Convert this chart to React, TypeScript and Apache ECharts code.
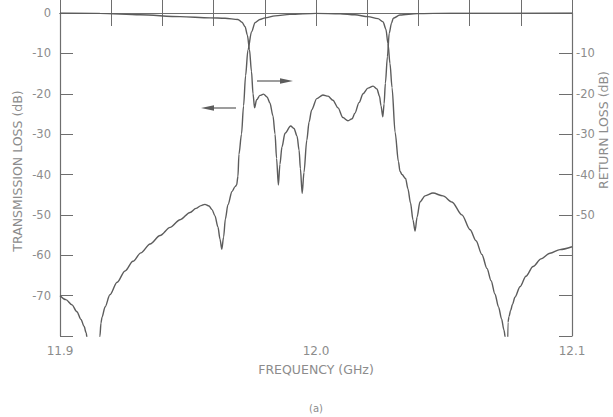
import React, { useEffect, useRef } from "react";
import * as echarts from "echarts";

// Transmission loss (S21) of the filter, frequency in GHz and loss in dB
const txFreq = [
  11.9, 11.9023, 11.9047, 11.9066, 11.9082, 11.9094, 11.9102, 11.9107, 11.9129, 11.9152,
  11.9156, 11.916, 11.9164, 11.9176, 11.9195, 11.9223, 11.9254, 11.9285, 11.9316, 11.9352,
  11.9391, 11.943, 11.9469, 11.9508, 11.9531, 11.9551, 11.9566, 11.9582, 11.9594, 11.9605,
  11.9617, 11.9625, 11.9632, 11.9639, 11.9646, 11.9656, 11.9672, 11.9684, 11.969, 11.9695,
  11.9699, 11.9709, 11.9717, 11.9725, 11.9734, 11.9748, 11.9762, 11.9781, 11.9801, 11.984,
  11.9898, 12.0, 12.0094, 12.0152, 12.0203, 12.0242, 12.0262, 12.0273, 12.0281, 12.0289,
  12.0297, 12.0309, 12.0322, 12.0328, 12.0336, 12.035, 12.0359, 12.0369, 12.0379, 12.0387,
  12.0395, 12.0406, 12.0426, 12.0457, 12.0496, 12.0531, 12.057, 12.0602, 12.0625, 12.0648,
  12.0668, 12.0684, 12.0699, 12.0713, 12.0725, 12.0734, 12.074, 12.0745, 12.075, 12.0754,
  12.076, 12.0768, 12.0777, 12.0797, 12.082, 12.0848, 12.0879, 12.0914, 12.0953, 12.1,
];
const txLoss = [
  -70.0, -71.0, -72.3, -74.0, -75.9, -77.6, -79.2, -81, -100, -82,
  -80.0, -76.8, -75.4, -72.8, -69.8, -66.7, -63.9, -61.5, -59.4, -57.2,
  -55.1, -53.1, -51.2, -49.4, -48.4, -47.7, -47.4, -47.8, -48.7, -50.2,
  -53, -56, -58.5, -55.5, -51, -47.5, -44.2, -43.0, -42.6, -40.5,
  -35, -30, -23, -15.5, -9.2, -4.7, -2.4, -1.6, -1.2, -0.7,
  -0.35, -0.1, -0.2, -0.45, -0.9, -1.4, -2.2, -4.0, -7.5, -12.5,
  -18.5, -29.5, -36.8, -39.2, -40.0, -41.0, -43.5, -47.0, -51.3, -54.0,
  -50.5, -46.8, -45.3, -44.6, -45.3, -46.8, -50.0, -53.7, -56.4, -59.8,
  -63.3, -66.3, -69.6, -72.8, -75.8, -78.5, -80.5, -100, -76.6, -75.2,
  -73.7, -72.1, -70.4, -67.8, -65.2, -62.8, -60.9, -59.5, -58.6, -57.9,
];

// Return loss (S11), same units
const rlFreq = [
  11.9, 11.9156, 11.9313, 11.9469, 11.9586, 11.9645, 11.9695, 11.9711, 11.9723, 11.9732,
  11.974, 11.9748, 11.9754, 11.976, 11.9768, 11.9781, 11.9795, 11.9809, 11.982, 11.9832,
  11.984, 11.9846, 11.9853, 11.9859, 11.9867, 11.9879, 11.9901, 11.9914, 11.9926, 11.9934,
  11.9939, 11.9946, 11.9953, 11.9964, 11.9973, 11.9983, 12.0003, 12.0027, 12.0047, 12.0066,
  12.0086, 12.0105, 12.0125, 12.0141, 12.0152, 12.0168, 12.0184, 12.0203, 12.0223, 12.0238,
  12.0248, 12.0254, 12.0261, 12.0266, 12.0271, 12.0279, 12.0286, 12.0295, 12.0302, 12.0328,
  12.0395, 12.0523, 12.1,
];
const rlLoss = [
  0, -0.1, -0.45, -0.9, -1.2, -1.3, -1.6, -2.3, -3.4, -5.5,
  -9.0, -14.5, -20, -23.5, -21.5, -20.4, -20.1, -20.8, -22.3, -25.5,
  -30, -36, -42.6, -37.5, -33.2, -29.8, -28.0, -28.6, -30.5, -34.0,
  -38.5, -44.7, -39.5, -31.5, -27.0, -24.0, -21.2, -20.3, -20.6, -21.6,
  -23.5, -25.9, -26.7, -26.2, -24.8, -22.2, -20.0, -18.6, -18.1, -18.8,
  -20.6, -23.0, -25.7, -22.5, -17.4, -10.8, -5.0, -2.5, -1.3, -0.5,
  -0.15, -0.05, 0,
];

const freqLabels = ["11.9", "12.0", "12.1"];
const leftLossLabels = [0, -10, -20, -30, -40, -50, -60, -70];
const rightLossLabels = [-10, -20, -30, -40, -50];

const AXIS = "#6e6e6e";
const TEXT = "#8c8c8c";
const CURVE = "#5c5c5c";
const FONT = "DejaVu Sans";

function pairs(xs: number[], ys: number[]) {
  return xs.map((x, i) => [x, ys[i]]);
}

export default function App() {
  const ref = useRef<HTMLDivElement>(null);

  useEffect(() => {
    if (!ref.current) return;
    const chart = echarts.init(ref.current, undefined, { renderer: "svg" });

    const xBase = {
      type: "value" as const,
      min: 11.9,
      max: 12.1,
      interval: 0.02,
      splitLine: { show: false },
      axisLine: { show: true, lineStyle: { color: AXIS, width: 1.2 } },
      axisTick: { show: true, inside: true, length: 13, lineStyle: { color: AXIS, width: 1 } },
    };
    const yBase = {
      type: "value" as const,
      min: -80,
      max: 0,
      interval: 10,
      splitLine: { show: false },
      axisLine: { show: true, lineStyle: { color: AXIS, width: 1.2 } },
      axisTick: { show: true, inside: true, length: 13, lineStyle: { color: AXIS, width: 1 } },
    };

    chart.setOption({
      animation: false,
      backgroundColor: "#ffffff",
      grid: { left: 60, right: 41, top: 13, bottom: 81, containLabel: false, outerBoundsMode: "none" },
      xAxis: [
        {
          ...xBase,
          position: "bottom",
          axisLabel: {
            color: TEXT,
            fontFamily: FONT,
            fontSize: 12,
            margin: 9,
            formatter: (v: number) => {
              const s = v.toFixed(1);
              return Math.abs(v - parseFloat(s)) < 1e-6 && freqLabels.includes(s) ? s : "";
            },
          },
        },
        {
          ...xBase,
          position: "top",
          axisLabel: { show: false },
        },
      ],
      yAxis: [
        {
          ...yBase,
          position: "left",
          axisLabel: {
            color: TEXT,
            fontFamily: FONT,
            fontSize: 11.5,
            margin: 9,
            formatter: (v: number) => (leftLossLabels.includes(Math.round(v)) ? String(Math.round(v)) : ""),
          },
        },
        {
          ...yBase,
          position: "right",
          axisLabel: {
            color: TEXT,
            fontFamily: FONT,
            fontSize: 11.5,
            margin: 4,
            formatter: (v: number) => (rightLossLabels.includes(Math.round(v)) ? String(Math.round(v)) : ""),
          },
        },
      ],
      series: [
        {
          name: "Transmission loss",
          type: "line",
          xAxisIndex: 0,
          yAxisIndex: 0,
          data: pairs(txFreq, txLoss),
          showSymbol: false,
          smooth: 0.3,
          smoothMonotone: "x",
          clip: true,
          lineStyle: { color: CURVE, width: 1.4 },
        },
        {
          name: "Return loss",
          type: "line",
          xAxisIndex: 0,
          yAxisIndex: 1,
          data: pairs(rlFreq, rlLoss),
          showSymbol: false,
          smooth: 0.3,
          smoothMonotone: "x",
          clip: true,
          lineStyle: { color: CURVE, width: 1.4 },
        },
      ],
      graphic: [
        {
          type: "text",
          x: 17,
          y: 171,
          rotation: Math.PI / 2,
          style: {
            text: "TRANSMISSION LOSS (dB)",
            fill: TEXT,
            font: `12.5px "${FONT}"`,
            align: "center",
            verticalAlign: "middle",
          },
        },
        {
          type: "text",
          x: 603,
          y: 130,
          rotation: Math.PI / 2,
          style: {
            text: "RETURN LOSS (dB)",
            fill: TEXT,
            font: `12.5px "${FONT}"`,
            align: "center",
            verticalAlign: "middle",
          },
        },
        {
          type: "text",
          x: 316,
          y: 369,
          style: {
            text: "FREQUENCY (GHz)",
            fill: TEXT,
            font: `12.5px "${FONT}"`,
            align: "center",
            verticalAlign: "middle",
          },
        },
        {
          type: "text",
          x: 316,
          y: 408,
          style: {
            text: "(a)",
            fill: TEXT,
            font: `10px "${FONT}"`,
            align: "center",
            verticalAlign: "middle",
          },
        },
        // arrow pointing to the transmission-loss axis
        {
          type: "line",
          shape: { x1: 236, y1: 108, x2: 210, y2: 108 },
          style: { stroke: CURVE, lineWidth: 1.2 },
        },
        {
          type: "polygon",
          shape: { points: [[201, 108], [214, 105.3], [214, 110.7]] },
          style: { fill: CURVE },
        },
        // arrow pointing to the return-loss axis
        {
          type: "line",
          shape: { x1: 257, y1: 81, x2: 284, y2: 81 },
          style: { stroke: CURVE, lineWidth: 1.2 },
        },
        {
          type: "polygon",
          shape: { points: [[293, 81], [280, 78.3], [280, 83.7]] },
          style: { fill: CURVE },
        },
      ],
    });

    return () => chart.dispose();
  }, []);

  return (
    <div
      ref={ref}
      style={{ position: "fixed", left: 0, top: 0, width: 613, height: 417, background: "#fff" }}
    />
  );
}
